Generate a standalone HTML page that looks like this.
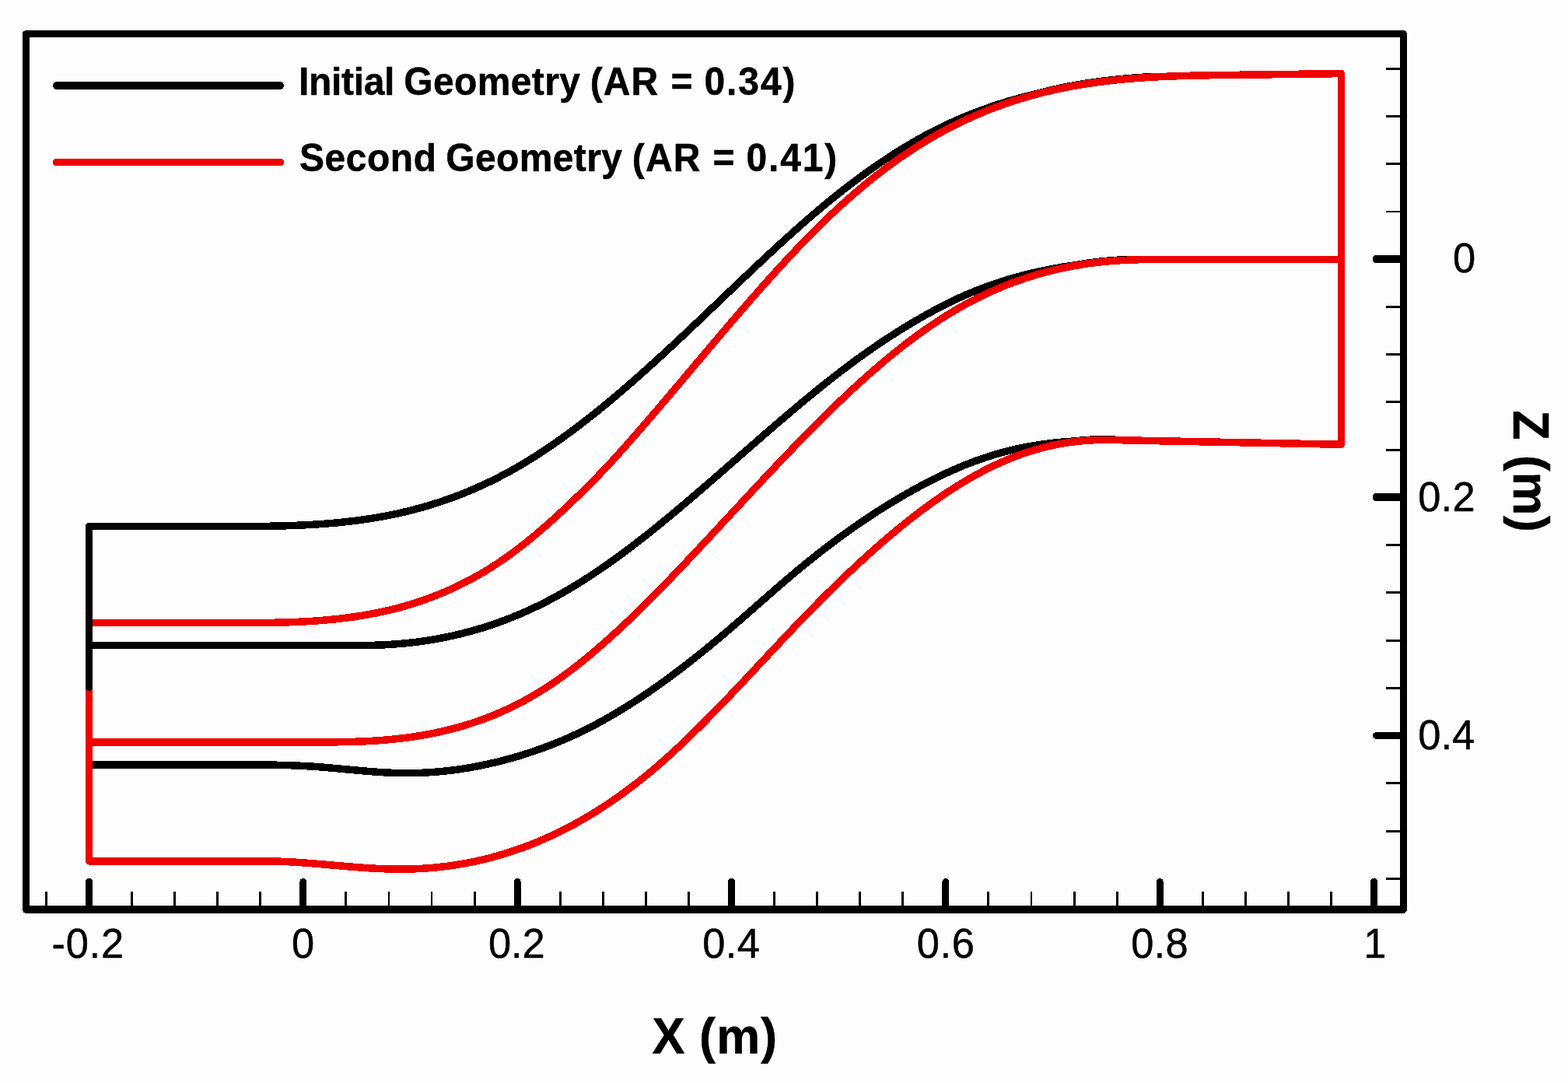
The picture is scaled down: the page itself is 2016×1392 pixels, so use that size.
<!DOCTYPE html>
<html lang="en"><head><meta charset="utf-8"><title>Geometry comparison</title>
<style>
html,body{margin:0;padding:0;background:#fdfdfd;}
body{width:2016px;height:1392px;overflow:hidden;}
svg{display:block;}
</style></head>
<body>
<svg width="2016" height="1392" viewBox="0 0 2016 1392" shape-rendering="crispEdges">
<rect width="2016" height="1392" fill="#fdfdfd"/>
<g transform="scale(1,1.0556)" fill="none" stroke-width="9.0" stroke-linejoin="round">
<g stroke="#000">
<path d="M118.0,640.96 L121.0,640.96 L124.0,640.96 L127.0,640.96 L130.0,640.96 L133.0,640.96 L136.0,640.96 L139.0,640.96 L142.0,640.96 L145.0,640.96 L148.0,640.96 L151.0,640.96 L154.0,640.96 L157.0,640.96 L160.0,640.96 L163.0,640.96 L166.0,640.96 L169.0,640.96 L172.0,640.96 L175.0,640.96 L178.0,640.96 L181.0,640.96 L184.0,640.96 L187.0,640.96 L190.0,640.96 L193.0,640.96 L196.0,640.96 L199.0,640.96 L202.0,640.92 L205.0,640.92 L208.0,640.92 L211.0,640.92 L214.0,640.92 L217.0,640.92 L220.0,640.93 L223.0,640.93 L226.0,640.93 L229.0,640.93 L232.0,640.94 L235.0,640.94 L238.0,640.95 L241.0,640.95 L244.0,640.95 L247.0,640.96 L250.0,640.96 L253.0,640.96 L256.0,640.97 L259.0,640.97 L262.0,640.98 L265.0,640.98 L268.0,640.98 L271.0,640.99 L274.0,640.99 L277.0,640.99 L280.0,640.99 L283.0,641.00 L286.0,641.00 L289.0,641.00 L292.0,641.00 L295.0,641.00 L298.0,640.99 L301.0,640.99 L304.0,640.98 L307.0,640.98 L310.0,640.97 L313.0,640.96 L316.0,640.95 L319.0,640.93 L322.0,640.92 L325.0,640.89 L328.0,640.87 L331.0,640.85 L334.0,640.82 L337.0,640.78 L340.0,640.74 L343.0,640.70 L346.0,640.66 L349.0,640.61 L352.0,640.55 L355.0,640.49 L358.0,640.43 L361.0,640.36 L364.0,640.28 L367.0,640.20 L370.0,640.11 L373.0,640.02 L376.0,639.92 L379.0,639.81 L382.0,639.69 L385.0,639.57 L388.0,639.44 L391.0,639.31 L394.0,639.17 L397.0,639.01 L400.0,638.85 L403.0,638.69 L406.0,638.51 L409.0,638.32 L412.0,638.13 L415.0,637.93 L418.0,637.71 L421.0,637.49 L424.0,637.26 L427.0,637.02 L430.0,636.76 L433.0,636.50 L436.0,636.23 L439.0,635.94 L442.0,635.65 L445.0,635.34 L448.0,635.02 L451.0,634.69 L454.0,634.35 L457.0,633.99 L460.0,633.63 L463.0,633.25 L466.0,632.85 L469.0,632.45 L472.0,632.03 L475.0,631.60 L478.0,631.15 L481.0,630.69 L484.0,630.22 L487.0,629.73 L490.0,629.23 L493.0,628.71 L496.0,628.18 L499.0,627.63 L502.0,627.07 L505.0,626.49 L508.0,625.90 L511.0,625.29 L514.0,624.66 L517.0,624.02 L520.0,623.36 L523.0,622.68 L526.0,621.99 L529.0,621.28 L532.0,620.55 L535.0,619.81 L538.0,619.04 L541.0,618.26 L544.0,617.46 L547.0,616.65 L550.0,615.81 L553.0,614.96 L556.0,614.09 L559.0,613.20 L562.0,612.29 L565.0,611.36 L568.0,610.41 L571.0,609.45 L574.0,608.46 L577.0,607.46 L580.0,606.44 L583.0,605.39 L586.0,604.33 L589.0,603.25 L592.0,602.15 L595.0,601.03 L598.0,599.88 L601.0,598.72 L604.0,597.54 L607.0,596.33 L610.0,595.11 L613.0,593.87 L616.0,592.60 L619.0,591.31 L622.0,590.01 L625.0,588.68 L628.0,587.33 L631.0,585.96 L634.0,584.56 L637.0,583.15 L640.0,581.71 L643.0,580.25 L646.0,578.77 L649.0,577.27 L652.0,575.74 L655.0,574.20 L658.0,572.63 L661.0,571.03 L664.0,569.42 L667.0,567.78 L670.0,566.12 L673.0,564.43 L676.0,562.72 L679.0,560.99 L682.0,559.24 L685.0,557.47 L688.0,555.67 L691.0,553.86 L694.0,552.02 L697.0,550.16 L700.0,548.29 L703.0,546.39 L706.0,544.47 L709.0,542.53 L712.0,540.57 L715.0,538.59 L718.0,536.60 L721.0,534.58 L724.0,532.55 L727.0,530.49 L730.0,528.42 L733.0,526.33 L736.0,524.23 L739.0,522.10 L742.0,519.96 L745.0,517.81 L748.0,515.63 L751.0,513.44 L754.0,511.23 L757.0,509.01 L760.0,506.77 L763.0,504.52 L766.0,502.25 L769.0,499.96 L772.0,497.66 L775.0,495.35 L778.0,493.02 L781.0,490.68 L784.0,488.32 L787.0,485.95 L790.0,483.57 L793.0,481.17 L796.0,478.76 L799.0,476.34 L802.0,473.91 L805.0,471.46 L808.0,469.00 L811.0,466.53 L814.0,464.05 L817.0,461.56 L820.0,459.06 L823.0,456.54 L826.0,454.02 L829.0,451.48 L832.0,448.94 L835.0,446.38 L838.0,443.82 L841.0,441.25 L844.0,438.67 L847.0,436.08 L850.0,433.48 L853.0,430.87 L856.0,428.25 L859.0,425.63 L862.0,423.00 L865.0,420.36 L868.0,417.72 L871.0,415.06 L874.0,412.41 L877.0,409.74 L880.0,407.07 L883.0,404.39 L886.0,401.71 L889.0,399.03 L892.0,396.34 L895.0,393.64 L898.0,390.94 L901.0,388.24 L904.0,385.54 L907.0,382.83 L910.0,380.12 L913.0,377.41 L916.0,374.70 L919.0,371.99 L922.0,369.27 L925.0,366.56 L928.0,363.84 L931.0,361.13 L934.0,358.41 L937.0,355.70 L940.0,352.99 L943.0,350.28 L946.0,347.57 L949.0,344.87 L952.0,342.16 L955.0,339.46 L958.0,336.77 L961.0,334.07 L964.0,331.39 L967.0,328.70 L970.0,326.02 L973.0,323.35 L976.0,320.68 L979.0,318.02 L982.0,315.36 L985.0,312.72 L988.0,310.07 L991.0,307.44 L994.0,304.81 L997.0,302.19 L1000.0,299.58 L1003.0,296.98 L1006.0,294.39 L1009.0,291.81 L1012.0,289.23 L1015.0,286.67 L1018.0,284.12 L1021.0,281.58 L1024.0,279.05 L1027.0,276.53 L1030.0,274.02 L1033.0,271.53 L1036.0,269.05 L1039.0,266.58 L1042.0,264.13 L1045.0,261.69 L1048.0,259.26 L1051.0,256.85 L1054.0,254.45 L1057.0,252.07 L1060.0,249.70 L1063.0,247.35 L1066.0,245.02 L1069.0,242.70 L1072.0,240.40 L1075.0,238.12 L1078.0,235.85 L1081.0,233.60 L1084.0,231.37 L1087.0,229.16 L1090.0,226.96 L1093.0,224.79 L1096.0,222.63 L1099.0,220.49 L1102.0,218.36 L1105.0,216.26 L1108.0,214.17 L1111.0,212.10 L1114.0,210.06 L1117.0,208.03 L1120.0,206.01 L1123.0,204.02 L1126.0,202.05 L1129.0,200.09 L1132.0,198.16 L1135.0,196.25 L1138.0,194.35 L1141.0,192.47 L1144.0,190.62 L1147.0,188.78 L1150.0,186.97 L1153.0,185.17 L1156.0,183.40 L1159.0,181.64 L1162.0,179.91 L1165.0,178.19 L1168.0,176.50 L1171.0,174.83 L1174.0,173.18 L1177.0,171.55 L1180.0,169.94 L1183.0,168.35 L1186.0,166.78 L1189.0,165.24 L1192.0,163.72 L1195.0,162.21 L1198.0,160.73 L1201.0,159.28 L1204.0,157.84 L1207.0,156.43 L1210.0,155.03 L1213.0,153.66 L1216.0,152.31 L1219.0,150.98 L1222.0,149.67 L1225.0,148.38 L1228.0,147.11 L1231.0,145.86 L1234.0,144.63 L1237.0,143.42 L1240.0,142.23 L1243.0,141.06 L1246.0,139.91 L1249.0,138.78 L1252.0,137.66 L1255.0,136.57 L1258.0,135.49 L1261.0,134.43 L1264.0,133.39 L1267.0,132.37 L1270.0,131.37 L1273.0,130.38 L1276.0,129.41 L1279.0,128.46 L1282.0,127.52 L1285.0,126.61 L1288.0,125.70 L1291.0,124.82 L1294.0,123.95 L1297.0,123.10 L1300.0,122.26 L1303.0,121.44 L1306.0,120.64 L1309.0,119.85 L1312.0,119.08 L1315.0,118.32 L1318.0,117.57 L1321.0,116.84 L1324.0,116.13 L1327.0,115.43 L1330.0,114.74 L1333.0,113.98 L1336.0,113.24 L1339.0,112.51 L1342.0,111.80 L1345.0,111.10 L1348.0,110.42 L1351.0,109.76 L1354.0,109.11 L1357.0,108.47 L1360.0,107.85 L1363.0,107.25 L1366.0,106.66 L1369.0,106.09 L1372.0,105.52 L1375.0,104.98 L1378.0,104.45 L1381.0,103.93 L1384.0,103.42 L1387.0,102.93 L1390.0,102.45 L1393.0,101.99 L1396.0,101.54 L1399.0,101.10 L1402.0,100.67 L1405.0,100.26 L1408.0,99.86 L1411.0,99.47 L1414.0,99.09 L1417.0,98.72 L1420.0,98.37 L1423.0,98.02 L1426.0,97.69 L1429.0,97.37 L1432.0,97.06 L1435.0,96.76 L1438.0,96.47 L1441.0,96.19 L1444.0,95.91 L1447.0,95.65 L1450.0,95.40 L1453.0,95.16 L1456.0,94.93 L1459.0,94.70 L1462.0,94.48 L1465.0,94.28 L1468.0,94.08 L1471.0,93.89 L1474.0,93.70 L1477.0,93.53 L1480.0,93.36 L1483.0,93.86 L1486.0,93.71 L1489.0,93.56 L1492.0,93.42 L1495.0,93.28 L1498.0,93.16 L1501.0,93.03 L1504.0,92.92 L1507.0,92.81 L1510.0,92.70 L1513.0,92.60 L1516.0,92.51 L1519.0,92.42 L1522.0,92.33 L1525.0,92.25 L1528.0,92.18 L1531.0,92.11 L1534.0,92.04 L1537.0,91.97 L1540.0,91.91 L1543.0,91.85 L1546.0,91.80 L1549.0,91.75 L1552.0,91.70 L1555.0,91.65 L1558.0,91.61 L1561.0,91.57 L1564.0,91.53 L1567.0,91.49 L1570.0,91.45 L1573.0,91.42 L1576.0,91.38 L1579.0,91.35 L1582.0,91.32 L1585.0,91.29 L1588.0,91.25 L1591.0,91.22 L1594.0,91.19 L1597.0,91.16 L1600.0,91.13 L1603.0,91.10 L1606.0,91.06 L1609.0,91.03 L1612.0,90.99 L1615.0,90.96 L1618.0,90.92 L1621.0,90.88 L1624.0,90.84 L1627.0,90.81 L1630.0,90.77 L1633.0,90.73 L1636.0,90.69 L1639.0,90.65 L1642.0,90.61 L1645.0,90.57 L1648.0,90.53 L1651.0,90.49 L1654.0,90.45 L1657.0,90.42 L1660.0,90.38 L1663.0,90.34 L1666.0,90.30 L1669.0,90.26 L1672.0,90.23 L1675.0,90.19 L1678.0,90.15 L1681.0,90.12 L1684.0,90.08 L1687.0,90.05 L1690.0,90.01 L1693.0,89.98 L1696.0,89.94 L1699.0,89.91 L1702.0,89.87 L1705.0,89.84 L1708.0,89.81 L1711.0,89.77 L1714.0,89.74 L1717.0,89.70 L1720.0,89.67 L1723.0,89.64 L1724.5,89.62"/>
<path d="M118.0,785.90 L121.0,785.90 L124.0,785.90 L127.0,785.90 L130.0,785.90 L133.0,785.90 L136.0,785.90 L139.0,785.90 L142.0,785.90 L145.0,785.90 L148.0,785.90 L151.0,785.90 L154.0,785.90 L157.0,785.90 L160.0,785.90 L163.0,785.90 L166.0,785.90 L169.0,785.90 L172.0,785.90 L175.0,785.90 L178.0,785.90 L181.0,785.90 L184.0,785.90 L187.0,785.90 L190.0,785.90 L193.0,785.90 L196.0,785.90 L199.0,785.90 L202.0,785.90 L205.0,785.90 L208.0,785.90 L211.0,785.90 L214.0,785.90 L217.0,785.90 L220.0,785.90 L223.0,785.90 L226.0,785.90 L229.0,785.90 L232.0,785.90 L235.0,785.90 L238.0,785.90 L241.0,785.90 L244.0,785.90 L247.0,785.90 L250.0,785.90 L253.0,785.90 L256.0,785.90 L259.0,785.90 L262.0,785.90 L265.0,785.90 L268.0,785.90 L271.0,785.90 L274.0,785.90 L277.0,785.90 L280.0,785.90 L283.0,785.90 L286.0,785.90 L289.0,785.90 L292.0,785.90 L295.0,785.90 L298.0,785.90 L301.0,785.90 L304.0,785.90 L307.0,785.90 L310.0,785.90 L313.0,785.90 L316.0,785.90 L319.0,785.90 L322.0,785.90 L325.0,785.90 L328.0,785.90 L331.0,785.90 L334.0,785.90 L337.0,785.90 L340.0,785.90 L343.0,785.90 L346.0,785.90 L349.0,785.90 L352.0,785.90 L355.0,785.90 L358.0,785.90 L361.0,785.90 L364.0,785.90 L367.0,785.90 L370.0,785.89 L373.0,785.88 L376.0,785.88 L379.0,785.88 L382.0,785.88 L385.0,785.88 L388.0,785.88 L391.0,785.88 L394.0,785.88 L397.0,785.88 L400.0,785.88 L403.0,785.89 L406.0,785.89 L409.0,785.89 L412.0,785.90 L415.0,785.90 L418.0,785.91 L421.0,785.91 L424.0,785.92 L427.0,785.93 L430.0,785.94 L433.0,785.95 L436.0,785.96 L439.0,785.97 L442.0,785.97 L445.0,785.98 L448.0,785.98 L451.0,785.98 L454.0,785.98 L457.0,785.96 L460.0,785.95 L463.0,785.93 L466.0,785.90 L469.0,785.86 L472.0,785.81 L475.0,785.76 L478.0,785.69 L481.0,785.61 L484.0,785.52 L487.0,785.42 L490.0,785.31 L493.0,785.18 L496.0,785.04 L499.0,784.89 L502.0,784.71 L505.0,784.53 L508.0,784.32 L511.0,784.11 L514.0,783.87 L517.0,783.62 L520.0,783.35 L523.0,783.07 L526.0,782.77 L529.0,782.46 L532.0,782.12 L535.0,781.77 L538.0,781.41 L541.0,781.03 L544.0,780.63 L547.0,780.21 L550.0,779.78 L553.0,779.33 L556.0,778.86 L559.0,778.37 L562.0,777.87 L565.0,777.35 L568.0,776.81 L571.0,776.25 L574.0,775.68 L577.0,775.09 L580.0,774.48 L583.0,773.85 L586.0,773.20 L589.0,772.53 L592.0,771.85 L595.0,771.14 L598.0,770.42 L601.0,769.68 L604.0,768.91 L607.0,768.13 L610.0,767.33 L613.0,766.52 L616.0,765.68 L619.0,764.82 L622.0,763.94 L625.0,763.04 L628.0,762.12 L631.0,761.18 L634.0,760.22 L637.0,759.25 L640.0,758.25 L643.0,757.23 L646.0,756.18 L649.0,755.12 L652.0,754.04 L655.0,752.94 L658.0,751.81 L661.0,750.67 L664.0,749.50 L667.0,748.31 L670.0,747.10 L673.0,745.87 L676.0,744.61 L679.0,743.34 L682.0,742.04 L685.0,740.72 L688.0,739.38 L691.0,738.01 L694.0,736.63 L697.0,735.22 L700.0,733.78 L703.0,732.33 L706.0,730.85 L709.0,729.35 L712.0,727.83 L715.0,726.28 L718.0,724.72 L721.0,723.13 L724.0,721.52 L727.0,719.88 L730.0,718.23 L733.0,716.56 L736.0,714.86 L739.0,713.15 L742.0,711.41 L745.0,709.65 L748.0,707.88 L751.0,706.08 L754.0,704.27 L757.0,702.43 L760.0,700.58 L763.0,698.70 L766.0,696.81 L769.0,694.90 L772.0,692.97 L775.0,691.02 L778.0,689.05 L781.0,687.07 L784.0,685.07 L787.0,683.05 L790.0,681.01 L793.0,678.96 L796.0,676.89 L799.0,674.80 L802.0,672.70 L805.0,670.58 L808.0,668.45 L811.0,666.30 L814.0,664.14 L817.0,661.97 L820.0,659.78 L823.0,657.57 L826.0,655.36 L829.0,653.13 L832.0,650.89 L835.0,648.63 L838.0,646.37 L841.0,644.09 L844.0,641.80 L847.0,639.50 L850.0,637.19 L853.0,634.87 L856.0,632.54 L859.0,630.20 L862.0,627.85 L865.0,625.49 L868.0,623.12 L871.0,620.74 L874.0,618.36 L877.0,615.97 L880.0,613.57 L883.0,611.16 L886.0,608.75 L889.0,606.33 L892.0,603.90 L895.0,601.47 L898.0,599.03 L901.0,596.58 L904.0,594.14 L907.0,591.68 L910.0,589.23 L913.0,586.76 L916.0,584.30 L919.0,581.83 L922.0,579.36 L925.0,576.88 L928.0,574.41 L931.0,571.93 L934.0,569.45 L937.0,566.96 L940.0,564.48 L943.0,562.00 L946.0,559.51 L949.0,557.03 L952.0,554.54 L955.0,552.06 L958.0,549.57 L961.0,547.09 L964.0,544.61 L967.0,542.13 L970.0,539.65 L973.0,537.17 L976.0,534.70 L979.0,532.23 L982.0,529.76 L985.0,527.30 L988.0,524.84 L991.0,522.38 L994.0,519.93 L997.0,517.49 L1000.0,515.05 L1003.0,512.61 L1006.0,510.18 L1009.0,507.76 L1012.0,505.34 L1015.0,502.93 L1018.0,500.53 L1021.0,498.13 L1024.0,495.75 L1027.0,493.37 L1030.0,490.99 L1033.0,488.63 L1036.0,486.28 L1039.0,483.93 L1042.0,481.60 L1045.0,479.27 L1048.0,476.96 L1051.0,474.65 L1054.0,472.36 L1057.0,470.08 L1060.0,467.80 L1063.0,465.55 L1066.0,463.30 L1069.0,461.06 L1072.0,458.84 L1075.0,456.63 L1078.0,454.44 L1081.0,452.26 L1084.0,450.09 L1087.0,447.93 L1090.0,445.80 L1093.0,443.67 L1096.0,441.56 L1099.0,439.47 L1102.0,437.39 L1105.0,435.33 L1108.0,433.29 L1111.0,431.26 L1114.0,429.25 L1117.0,427.26 L1120.0,425.28 L1123.0,423.31 L1126.0,421.37 L1129.0,419.44 L1132.0,417.52 L1135.0,415.63 L1138.0,413.75 L1141.0,411.88 L1144.0,410.03 L1147.0,408.19 L1150.0,406.38 L1153.0,404.57 L1156.0,402.79 L1159.0,401.01 L1162.0,399.26 L1165.0,397.52 L1168.0,395.79 L1171.0,394.08 L1174.0,392.39 L1177.0,390.71 L1180.0,389.05 L1183.0,387.40 L1186.0,385.77 L1189.0,384.16 L1192.0,382.57 L1195.0,381.00 L1198.0,379.44 L1201.0,377.91 L1204.0,376.39 L1207.0,374.89 L1210.0,373.42 L1213.0,371.96 L1216.0,370.52 L1219.0,369.11 L1222.0,367.72 L1225.0,366.35 L1228.0,365.00 L1231.0,363.68 L1234.0,362.38 L1237.0,361.10 L1240.0,359.84 L1243.0,358.61 L1246.0,357.40 L1249.0,356.21 L1252.0,355.05 L1255.0,353.90 L1258.0,352.78 L1261.0,351.68 L1264.0,350.60 L1267.0,349.54 L1270.0,348.51 L1273.0,347.49 L1276.0,346.49 L1279.0,345.52 L1282.0,344.56 L1285.0,343.62 L1288.0,342.71 L1291.0,341.81 L1294.0,340.93 L1297.0,340.08 L1300.0,339.24 L1303.0,338.42 L1306.0,337.61 L1309.0,336.83 L1312.0,336.06 L1315.0,335.32 L1318.0,334.59 L1321.0,333.87 L1324.0,333.18 L1327.0,332.50 L1330.0,331.84 L1333.0,331.19 L1336.0,330.57 L1339.0,329.95 L1342.0,329.36 L1345.0,328.78 L1348.0,328.22 L1351.0,327.67 L1354.0,327.14 L1357.0,326.62 L1360.0,326.11 L1363.0,325.63 L1366.0,325.15 L1369.0,324.69 L1372.0,324.25 L1375.0,323.82 L1378.0,323.40 L1381.0,323.00 L1384.0,322.50 L1387.0,322.01 L1390.0,321.55 L1393.0,321.11 L1396.0,320.68 L1399.0,320.27 L1402.0,319.88 L1405.0,319.51 L1408.0,319.15 L1411.0,318.82 L1414.0,318.50 L1417.0,318.20 L1420.0,317.92 L1423.0,317.65 L1426.0,317.40 L1429.0,317.17 L1432.0,316.95 L1435.0,316.75 L1438.0,316.56 L1441.0,316.39 L1444.0,316.23 L1447.0,316.08 L1450.0,315.94 L1453.0,315.82 L1456.0,315.71 L1459.0,316.28 L1462.0,316.19 L1465.0,316.11 L1468.0,316.04 L1471.0,315.98 L1474.0,315.92 L1477.0,315.88 L1480.0,315.84 L1483.0,315.81 L1486.0,315.79 L1489.0,315.77 L1492.0,315.76 L1495.0,315.75 L1498.0,315.74 L1501.0,315.74 L1504.0,315.75 L1507.0,315.75 L1510.0,315.76 L1513.0,315.77 L1516.0,315.78 L1519.0,315.79 L1522.0,315.80 L1525.0,315.81 L1528.0,315.82 L1531.0,315.83 L1534.0,315.83 L1537.0,315.84 L1540.0,315.84 L1543.0,315.85 L1546.0,315.85 L1549.0,315.85 L1552.0,315.85 L1555.0,315.85 L1558.0,315.85 L1561.0,315.85 L1564.0,315.85 L1567.0,315.85 L1570.0,315.85 L1573.0,315.84 L1576.0,315.84 L1579.0,315.84 L1582.0,315.83 L1585.0,315.83 L1588.0,315.82 L1591.0,315.82 L1594.0,315.81 L1597.0,315.81 L1600.0,315.81 L1603.0,315.80 L1606.0,315.80 L1609.0,315.79 L1612.0,315.79 L1615.0,315.78 L1618.0,315.78 L1621.0,315.78 L1624.0,315.77 L1627.0,315.77 L1630.0,315.77 L1633.0,315.77 L1636.0,315.76 L1639.0,315.76 L1642.0,315.76 L1645.0,315.76 L1648.0,315.76 L1651.0,315.76 L1654.0,315.76 L1657.0,315.75 L1660.0,315.75 L1663.0,315.75 L1666.0,315.75 L1669.0,315.75 L1672.0,315.75 L1675.0,315.75 L1678.0,315.75 L1681.0,315.75 L1684.0,315.75 L1687.0,315.75 L1690.0,315.75 L1693.0,315.75 L1696.0,315.75 L1699.0,315.75 L1702.0,315.75 L1705.0,315.75 L1708.0,315.75 L1711.0,315.75 L1714.0,315.75 L1717.0,315.75 L1720.0,315.75 L1723.0,315.75 L1724.5,315.75"/>
<path d="M118.0,931.22 L121.0,931.22 L124.0,931.22 L127.0,931.22 L130.0,931.22 L133.0,931.22 L136.0,931.22 L139.0,931.22 L142.0,931.22 L145.0,931.22 L148.0,931.22 L151.0,931.22 L154.0,931.22 L157.0,931.22 L160.0,931.22 L163.0,931.22 L166.0,931.22 L169.0,931.22 L172.0,931.22 L175.0,931.22 L178.0,931.22 L181.0,931.22 L184.0,931.22 L187.0,931.22 L190.0,931.22 L193.0,931.22 L196.0,931.22 L199.0,931.22 L202.0,931.22 L205.0,931.22 L208.0,931.22 L211.0,931.22 L214.0,931.22 L217.0,931.22 L220.0,931.22 L223.0,931.22 L226.0,931.22 L229.0,931.22 L232.0,931.22 L235.0,931.22 L238.0,931.22 L241.0,931.22 L244.0,931.22 L247.0,931.22 L250.0,931.25 L253.0,931.25 L256.0,931.24 L259.0,931.24 L262.0,931.23 L265.0,931.23 L268.0,931.22 L271.0,931.21 L274.0,931.21 L277.0,931.20 L280.0,931.20 L283.0,931.19 L286.0,931.19 L289.0,931.18 L292.0,931.18 L295.0,931.17 L298.0,931.17 L301.0,931.17 L304.0,931.16 L307.0,931.16 L310.0,931.16 L313.0,931.16 L316.0,931.16 L319.0,931.17 L322.0,931.17 L325.0,931.18 L328.0,931.19 L331.0,931.20 L334.0,931.22 L337.0,931.24 L340.0,931.27 L343.0,931.29 L346.0,931.33 L349.0,931.37 L352.0,931.41 L355.0,931.46 L358.0,931.52 L361.0,931.58 L364.0,931.65 L367.0,931.73 L370.0,931.81 L373.0,931.90 L376.0,932.00 L379.0,932.11 L382.0,932.23 L385.0,932.36 L388.0,932.50 L391.0,932.64 L394.0,932.80 L397.0,932.97 L400.0,933.14 L403.0,933.33 L406.0,933.53 L409.0,933.74 L412.0,933.96 L415.0,934.19 L418.0,934.43 L421.0,934.67 L424.0,934.91 L427.0,935.17 L430.0,935.42 L433.0,935.68 L436.0,935.95 L439.0,936.21 L442.0,936.48 L445.0,936.75 L448.0,937.01 L451.0,937.28 L454.0,937.54 L457.0,937.80 L460.0,938.06 L463.0,938.32 L466.0,938.56 L469.0,938.81 L472.0,939.05 L475.0,939.28 L478.0,939.50 L481.0,939.71 L484.0,939.91 L487.0,940.11 L490.0,940.29 L493.0,940.46 L496.0,940.62 L499.0,940.76 L502.0,940.89 L505.0,941.01 L508.0,941.11 L511.0,941.19 L514.0,941.26 L517.0,941.31 L520.0,941.34 L523.0,941.35 L526.0,941.34 L529.0,941.31 L532.0,941.27 L535.0,941.20 L538.0,941.12 L541.0,941.02 L544.0,940.89 L547.0,940.76 L550.0,940.60 L553.0,940.42 L556.0,940.23 L559.0,940.01 L562.0,939.78 L565.0,939.53 L568.0,939.26 L571.0,938.98 L574.0,938.67 L577.0,938.35 L580.0,938.01 L583.0,937.66 L586.0,937.28 L589.0,936.89 L592.0,936.47 L595.0,936.05 L598.0,935.60 L601.0,935.13 L604.0,934.65 L607.0,934.15 L610.0,933.64 L613.0,933.10 L616.0,932.55 L619.0,931.98 L622.0,931.39 L625.0,930.79 L628.0,930.17 L631.0,929.53 L634.0,928.88 L637.0,928.21 L640.0,927.52 L643.0,926.81 L646.0,926.09 L649.0,925.35 L652.0,924.59 L655.0,923.82 L658.0,923.03 L661.0,922.22 L664.0,921.40 L667.0,920.56 L670.0,919.70 L673.0,918.82 L676.0,917.93 L679.0,917.02 L682.0,916.09 L685.0,915.14 L688.0,914.17 L691.0,913.19 L694.0,912.18 L697.0,911.16 L700.0,910.12 L703.0,909.06 L706.0,907.97 L709.0,906.87 L712.0,905.75 L715.0,904.61 L718.0,903.45 L721.0,902.27 L724.0,901.07 L727.0,899.85 L730.0,898.61 L733.0,897.34 L736.0,896.06 L739.0,894.75 L742.0,893.43 L745.0,892.08 L748.0,890.71 L751.0,889.31 L754.0,887.90 L757.0,886.46 L760.0,885.01 L763.0,883.53 L766.0,882.03 L769.0,880.51 L772.0,878.96 L775.0,877.40 L778.0,875.82 L781.0,874.21 L784.0,872.59 L787.0,870.95 L790.0,869.28 L793.0,867.60 L796.0,865.89 L799.0,864.17 L802.0,862.43 L805.0,860.67 L808.0,858.89 L811.0,857.09 L814.0,855.28 L817.0,853.44 L820.0,851.59 L823.0,849.72 L826.0,847.83 L829.0,845.92 L832.0,844.00 L835.0,842.06 L838.0,840.10 L841.0,838.12 L844.0,836.13 L847.0,834.12 L850.0,832.10 L853.0,830.06 L856.0,828.00 L859.0,825.93 L862.0,823.84 L865.0,821.73 L868.0,819.61 L871.0,817.48 L874.0,815.33 L877.0,813.16 L880.0,810.98 L883.0,808.79 L886.0,806.58 L889.0,804.36 L892.0,802.12 L895.0,799.87 L898.0,797.60 L901.0,795.33 L904.0,793.03 L907.0,790.73 L910.0,788.41 L913.0,786.08 L916.0,783.74 L919.0,781.38 L922.0,779.02 L925.0,776.64 L928.0,774.25 L931.0,771.84 L934.0,769.43 L937.0,767.00 L940.0,764.57 L943.0,762.12 L946.0,759.67 L949.0,757.20 L952.0,754.74 L955.0,752.26 L958.0,749.78 L961.0,747.30 L964.0,744.81 L967.0,742.32 L970.0,739.83 L973.0,737.34 L976.0,734.84 L979.0,732.35 L982.0,729.86 L985.0,727.37 L988.0,724.89 L991.0,722.41 L994.0,719.93 L997.0,717.46 L1000.0,715.00 L1003.0,712.54 L1006.0,710.10 L1009.0,707.66 L1012.0,705.23 L1015.0,702.81 L1018.0,700.41 L1021.0,698.01 L1024.0,695.63 L1027.0,693.27 L1030.0,690.92 L1033.0,688.58 L1036.0,686.26 L1039.0,683.96 L1042.0,681.67 L1045.0,679.40 L1048.0,677.14 L1051.0,674.90 L1054.0,672.68 L1057.0,670.47 L1060.0,668.28 L1063.0,666.10 L1066.0,663.94 L1069.0,661.79 L1072.0,659.67 L1075.0,657.55 L1078.0,655.45 L1081.0,653.37 L1084.0,651.31 L1087.0,649.26 L1090.0,647.22 L1093.0,645.20 L1096.0,643.20 L1099.0,641.21 L1102.0,639.24 L1105.0,637.29 L1108.0,635.35 L1111.0,633.43 L1114.0,631.52 L1117.0,629.63 L1120.0,627.75 L1123.0,625.89 L1126.0,624.05 L1129.0,622.22 L1132.0,620.41 L1135.0,618.61 L1138.0,616.83 L1141.0,615.06 L1144.0,613.31 L1147.0,611.58 L1150.0,609.86 L1153.0,608.16 L1156.0,606.47 L1159.0,604.80 L1162.0,603.15 L1165.0,601.51 L1168.0,599.89 L1171.0,598.29 L1174.0,596.70 L1177.0,595.13 L1180.0,593.58 L1183.0,592.04 L1186.0,590.52 L1189.0,589.02 L1192.0,587.54 L1195.0,586.08 L1198.0,584.63 L1201.0,583.21 L1204.0,581.80 L1207.0,580.41 L1210.0,579.04 L1213.0,577.70 L1216.0,576.37 L1219.0,575.06 L1222.0,573.77 L1225.0,572.51 L1228.0,571.26 L1231.0,570.03 L1234.0,568.83 L1237.0,567.65 L1240.0,566.49 L1243.0,565.35 L1246.0,564.23 L1249.0,563.14 L1252.0,562.06 L1255.0,561.01 L1258.0,559.99 L1261.0,558.99 L1264.0,558.01 L1267.0,557.05 L1270.0,556.12 L1273.0,555.21 L1276.0,554.33 L1279.0,553.47 L1282.0,552.63 L1285.0,551.82 L1288.0,551.04 L1291.0,550.28 L1294.0,549.54 L1297.0,548.83 L1300.0,548.14 L1303.0,547.47 L1306.0,546.83 L1309.0,546.20 L1312.0,545.60 L1315.0,545.03 L1318.0,544.47 L1321.0,543.93 L1324.0,543.42 L1327.0,542.92 L1330.0,542.45 L1333.0,541.99 L1336.0,541.56 L1339.0,541.14 L1342.0,540.74 L1345.0,540.36 L1348.0,540.00 L1351.0,539.65 L1354.0,539.33 L1357.0,539.02 L1360.0,538.72 L1363.0,538.45 L1366.0,538.19 L1369.0,537.94 L1372.0,537.71 L1375.0,537.50 L1378.0,537.30 L1381.0,537.11 L1384.0,536.90 L1387.0,536.59 L1390.0,536.31 L1393.0,536.05 L1396.0,535.83 L1399.0,535.63 L1402.0,535.47 L1405.0,535.33 L1408.0,535.22 L1411.0,535.13 L1414.0,535.07 L1417.0,535.04 L1420.0,535.02 L1423.0,535.02 L1426.0,535.04 L1429.0,535.07 L1432.0,535.10 L1435.0,535.81 L1438.0,535.86 L1441.0,535.92 L1444.0,535.97 L1447.0,536.03 L1450.0,536.08 L1453.0,536.14 L1456.0,536.20 L1459.0,536.26 L1462.0,536.32 L1465.0,536.38 L1468.0,536.44 L1471.0,536.50 L1474.0,536.56 L1477.0,536.62 L1480.0,536.68 L1483.0,536.74 L1486.0,536.80 L1489.0,536.86 L1492.0,536.91 L1495.0,536.97 L1498.0,537.03 L1501.0,537.09 L1504.0,537.15 L1507.0,537.20 L1510.0,537.26 L1513.0,537.32 L1516.0,537.37 L1519.0,537.43 L1522.0,537.48 L1525.0,537.54 L1528.0,537.60 L1531.0,537.65 L1534.0,537.71 L1537.0,537.76 L1540.0,537.81 L1543.0,537.87 L1546.0,537.92 L1549.0,537.98 L1552.0,538.03 L1555.0,538.09 L1558.0,538.14 L1561.0,538.19 L1564.0,538.25 L1567.0,538.30 L1570.0,538.36 L1573.0,538.41 L1576.0,538.46 L1579.0,538.52 L1582.0,538.57 L1585.0,538.63 L1588.0,538.68 L1591.0,538.73 L1594.0,538.79 L1597.0,538.84 L1600.0,538.90 L1603.0,538.95 L1606.0,539.01 L1609.0,539.06 L1612.0,539.12 L1615.0,539.17 L1618.0,539.23 L1621.0,539.28 L1624.0,539.34 L1627.0,539.39 L1630.0,539.45 L1633.0,539.51 L1636.0,539.56 L1639.0,539.62 L1642.0,539.67 L1645.0,539.73 L1648.0,539.79 L1651.0,539.84 L1654.0,539.90 L1657.0,539.95 L1660.0,540.01 L1663.0,540.07 L1666.0,540.12 L1669.0,540.18 L1672.0,540.23 L1675.0,540.29 L1678.0,540.35 L1681.0,540.40 L1684.0,540.46 L1687.0,540.51 L1690.0,540.57 L1693.0,540.63 L1696.0,540.68 L1699.0,540.74 L1702.0,540.80 L1705.0,540.85 L1708.0,540.91 L1711.0,540.96 L1714.0,541.02 L1717.0,541.08 L1720.0,541.13 L1723.0,541.19 L1724.5,541.22"/>
</g>
<g stroke="#f00000">
<path d="M114.5,758.43 L117.5,758.43 L120.5,758.43 L123.5,758.43 L126.5,758.43 L129.5,758.43 L132.5,758.43 L135.5,758.43 L138.5,758.43 L141.5,758.43 L144.5,758.43 L147.5,758.43 L150.5,758.43 L153.5,758.43 L156.5,758.43 L159.5,758.43 L162.5,758.43 L165.5,758.43 L168.5,758.43 L171.5,758.43 L174.5,758.43 L177.5,758.43 L180.5,758.43 L183.5,758.43 L186.5,758.43 L189.5,758.43 L192.5,758.43 L195.5,758.43 L198.5,758.43 L201.5,758.44 L204.5,758.44 L207.5,758.44 L210.5,758.44 L213.5,758.43 L216.5,758.43 L219.5,758.43 L222.5,758.43 L225.5,758.43 L228.5,758.43 L231.5,758.43 L234.5,758.42 L237.5,758.42 L240.5,758.42 L243.5,758.42 L246.5,758.42 L249.5,758.42 L252.5,758.42 L255.5,758.42 L258.5,758.42 L261.5,758.42 L264.5,758.42 L267.5,758.42 L270.5,758.42 L273.5,758.42 L276.5,758.42 L279.5,758.43 L282.5,758.43 L285.5,758.43 L288.5,758.43 L291.5,758.44 L294.5,758.44 L297.5,758.44 L300.5,758.45 L303.5,758.45 L306.5,758.45 L309.5,758.45 L312.5,758.45 L315.5,758.44 L318.5,758.43 L321.5,758.42 L324.5,758.41 L327.5,758.40 L330.5,758.38 L333.5,758.36 L336.5,758.33 L339.5,758.30 L342.5,758.26 L345.5,758.22 L348.5,758.18 L351.5,758.13 L354.5,758.07 L357.5,758.01 L360.5,757.94 L363.5,757.87 L366.5,757.79 L369.5,757.70 L372.5,757.60 L375.5,757.50 L378.5,757.39 L381.5,757.27 L384.5,757.14 L387.5,757.00 L390.5,756.86 L393.5,756.71 L396.5,756.54 L399.5,756.37 L402.5,756.18 L405.5,755.99 L408.5,755.78 L411.5,755.57 L414.5,755.34 L417.5,755.10 L420.5,754.85 L423.5,754.59 L426.5,754.32 L429.5,754.03 L432.5,753.73 L435.5,753.42 L438.5,753.09 L441.5,752.75 L444.5,752.40 L447.5,752.03 L450.5,751.64 L453.5,751.25 L456.5,750.83 L459.5,750.40 L462.5,749.96 L465.5,749.50 L468.5,749.02 L471.5,748.53 L474.5,748.02 L477.5,747.50 L480.5,746.95 L483.5,746.39 L486.5,745.81 L489.5,745.21 L492.5,744.60 L495.5,743.96 L498.5,743.31 L501.5,742.64 L504.5,741.94 L507.5,741.23 L510.5,740.50 L513.5,739.75 L516.5,738.97 L519.5,738.18 L522.5,737.36 L525.5,736.52 L528.5,735.67 L531.5,734.78 L534.5,733.88 L537.5,732.96 L540.5,732.01 L543.5,731.03 L546.5,730.04 L549.5,729.02 L552.5,727.98 L555.5,726.91 L558.5,725.82 L561.5,724.70 L564.5,723.56 L567.5,722.39 L570.5,721.20 L573.5,719.98 L576.5,718.73 L579.5,717.46 L582.5,716.16 L585.5,714.83 L588.5,713.48 L591.5,712.10 L594.5,710.69 L597.5,709.25 L600.5,707.79 L603.5,706.29 L606.5,704.77 L609.5,703.22 L612.5,701.63 L615.5,700.02 L618.5,698.38 L621.5,696.71 L624.5,695.00 L627.5,693.27 L630.5,691.50 L633.5,689.71 L636.5,687.88 L639.5,686.01 L642.5,684.12 L645.5,682.19 L648.5,680.24 L651.5,678.24 L654.5,676.22 L657.5,674.16 L660.5,672.07 L663.5,669.94 L666.5,667.79 L669.5,665.60 L672.5,663.39 L675.5,661.14 L678.5,658.87 L681.5,656.56 L684.5,654.23 L687.5,651.87 L690.5,649.49 L693.5,647.07 L696.5,644.64 L699.5,642.17 L702.5,639.69 L705.5,637.17 L708.5,634.64 L711.5,632.08 L714.5,629.50 L717.5,626.90 L720.5,624.27 L723.5,621.63 L726.5,618.96 L729.5,616.28 L732.5,613.58 L735.5,610.86 L738.5,608.12 L741.5,605.36 L744.5,602.58 L747.5,599.79 L750.5,596.99 L753.5,594.17 L756.5,591.33 L759.5,588.48 L762.5,585.62 L765.5,582.74 L768.5,579.84 L771.5,576.92 L774.5,573.97 L777.5,570.98 L780.5,567.97 L783.5,564.92 L786.5,561.85 L789.5,558.74 L792.5,555.62 L795.5,552.47 L798.5,549.30 L801.5,546.11 L804.5,542.92 L807.5,539.71 L810.5,536.49 L813.5,533.25 L816.5,530.01 L819.5,526.76 L822.5,523.50 L825.5,520.23 L828.5,516.95 L831.5,513.67 L834.5,510.37 L837.5,507.07 L840.5,503.76 L843.5,500.45 L846.5,497.12 L849.5,493.80 L852.5,490.46 L855.5,487.12 L858.5,483.78 L861.5,480.43 L864.5,477.08 L867.5,473.73 L870.5,470.37 L873.5,467.01 L876.5,463.64 L879.5,460.28 L882.5,456.91 L885.5,453.54 L888.5,450.17 L891.5,446.80 L894.5,443.43 L897.5,440.07 L900.5,436.70 L903.5,433.33 L906.5,429.96 L909.5,426.60 L912.5,423.24 L915.5,419.88 L918.5,416.53 L921.5,413.17 L924.5,409.82 L927.5,406.48 L930.5,403.14 L933.5,399.81 L936.5,396.48 L939.5,393.16 L942.5,389.84 L945.5,386.53 L948.5,383.23 L951.5,379.93 L954.5,376.64 L957.5,373.36 L960.5,370.09 L963.5,366.83 L966.5,363.58 L969.5,360.34 L972.5,357.10 L975.5,353.88 L978.5,350.67 L981.5,347.47 L984.5,344.28 L987.5,341.11 L990.5,337.94 L993.5,334.79 L996.5,331.66 L999.5,328.53 L1002.5,325.42 L1005.5,322.33 L1008.5,319.25 L1011.5,316.18 L1014.5,313.13 L1017.5,310.10 L1020.5,307.09 L1023.5,304.09 L1026.5,301.10 L1029.5,298.14 L1032.5,295.19 L1035.5,292.26 L1038.5,289.35 L1041.5,286.46 L1044.5,283.59 L1047.5,280.74 L1050.5,277.91 L1053.5,275.10 L1056.5,272.31 L1059.5,269.54 L1062.5,266.80 L1065.5,264.07 L1068.5,261.37 L1071.5,258.70 L1074.5,256.04 L1077.5,253.41 L1080.5,250.81 L1083.5,248.22 L1086.5,245.67 L1089.5,243.13 L1092.5,240.62 L1095.5,238.14 L1098.5,235.67 L1101.5,233.24 L1104.5,230.82 L1107.5,228.43 L1110.5,226.07 L1113.5,223.72 L1116.5,221.41 L1119.5,219.11 L1122.5,216.84 L1125.5,214.60 L1128.5,212.37 L1131.5,210.18 L1134.5,208.00 L1137.5,205.85 L1140.5,203.72 L1143.5,201.62 L1146.5,199.54 L1149.5,197.49 L1152.5,195.46 L1155.5,193.45 L1158.5,191.47 L1161.5,189.51 L1164.5,187.57 L1167.5,185.66 L1170.5,183.78 L1173.5,181.91 L1176.5,180.07 L1179.5,178.26 L1182.5,176.47 L1185.5,174.70 L1188.5,172.96 L1191.5,171.24 L1194.5,169.54 L1197.5,167.87 L1200.5,166.22 L1203.5,164.60 L1206.5,162.99 L1209.5,161.42 L1212.5,159.86 L1215.5,158.33 L1218.5,156.82 L1221.5,155.34 L1224.5,153.87 L1227.5,152.43 L1230.5,151.01 L1233.5,149.61 L1236.5,148.24 L1239.5,146.89 L1242.5,145.55 L1245.5,144.24 L1248.5,142.95 L1251.5,141.68 L1254.5,140.44 L1257.5,139.21 L1260.5,138.00 L1263.5,136.82 L1266.5,135.65 L1269.5,134.50 L1272.5,133.38 L1275.5,132.27 L1278.5,131.18 L1281.5,130.12 L1284.5,129.07 L1287.5,128.04 L1290.5,127.03 L1293.5,126.04 L1296.5,125.06 L1299.5,124.11 L1302.5,123.17 L1305.5,122.25 L1308.5,121.35 L1311.5,120.47 L1314.5,119.61 L1317.5,118.76 L1320.5,117.93 L1323.5,117.11 L1326.5,116.32 L1329.5,115.54 L1332.5,114.77 L1335.5,114.03 L1338.5,113.29 L1341.5,112.58 L1344.5,111.88 L1347.5,111.20 L1350.5,110.53 L1353.5,109.88 L1356.5,109.24 L1359.5,108.62 L1362.5,108.01 L1365.5,107.42 L1368.5,106.84 L1371.5,106.28 L1374.5,105.73 L1377.5,105.20 L1380.5,104.68 L1383.5,104.17 L1386.5,103.68 L1389.5,103.20 L1392.5,102.73 L1395.5,102.28 L1398.5,101.83 L1401.5,101.41 L1404.5,100.99 L1407.5,100.59 L1410.5,100.19 L1413.5,99.81 L1416.5,99.45 L1419.5,99.09 L1422.5,98.74 L1425.5,98.41 L1428.5,98.09 L1431.5,97.77 L1434.5,97.47 L1437.5,97.18 L1440.5,96.89 L1443.5,96.62 L1446.5,96.36 L1449.5,96.11 L1452.5,95.86 L1455.5,95.63 L1458.5,95.40 L1461.5,95.18 L1464.5,94.97 L1467.5,94.77 L1470.5,94.58 L1473.5,94.40 L1476.5,94.22 L1479.5,94.05 L1482.5,93.89 L1485.5,93.73 L1488.5,93.58 L1491.5,93.44 L1494.5,93.30 L1497.5,93.18 L1500.5,93.05 L1503.5,92.94 L1506.5,92.82 L1509.5,92.72 L1512.5,92.62 L1515.5,92.52 L1518.5,92.43 L1521.5,92.35 L1524.5,92.27 L1527.5,92.19 L1530.5,92.12 L1533.5,92.05 L1536.5,91.98 L1539.5,91.92 L1542.5,91.86 L1545.5,91.81 L1548.5,91.76 L1551.5,91.71 L1554.5,91.66 L1557.5,91.62 L1560.5,91.57 L1563.5,91.53 L1566.5,91.50 L1569.5,91.46 L1572.5,91.42 L1575.5,91.39 L1578.5,91.36 L1581.5,91.32 L1584.5,91.29 L1587.5,91.26 L1590.5,91.23 L1593.5,91.20 L1596.5,91.17 L1599.5,91.13 L1602.5,91.10 L1605.5,91.07 L1608.5,91.03 L1611.5,91.00 L1614.5,90.96 L1617.5,90.93 L1620.5,90.89 L1623.5,90.85 L1626.5,90.81 L1629.5,90.77 L1632.5,90.74 L1635.5,90.70 L1638.5,90.66 L1641.5,90.62 L1644.5,90.58 L1647.5,90.54 L1650.5,90.50 L1653.5,90.46 L1656.5,90.42 L1659.5,90.38 L1662.5,90.35 L1665.5,90.31 L1668.5,90.27 L1671.5,90.23 L1674.5,90.20 L1677.5,90.16 L1680.5,90.12 L1683.5,90.09 L1686.5,90.05 L1689.5,90.02 L1692.5,89.98 L1695.5,89.95 L1698.5,89.91 L1701.5,89.88 L1704.5,89.84 L1707.5,89.81 L1710.5,89.78 L1713.5,89.74 L1716.5,89.71 L1719.5,89.68 L1722.5,89.64 L1724.5,89.62"/>
<path d="M114.5,903.56 L117.5,903.56 L120.5,903.56 L123.5,903.56 L126.5,903.56 L129.5,903.56 L132.5,903.56 L135.5,903.56 L138.5,903.56 L141.5,903.56 L144.5,903.56 L147.5,903.56 L150.5,903.56 L153.5,903.56 L156.5,903.56 L159.5,903.56 L162.5,903.56 L165.5,903.56 L168.5,903.56 L171.5,903.56 L174.5,903.56 L177.5,903.56 L180.5,903.56 L183.5,903.56 L186.5,903.56 L189.5,903.56 L192.5,903.56 L195.5,903.56 L198.5,903.56 L201.5,903.56 L204.5,903.56 L207.5,903.56 L210.5,903.56 L213.5,903.56 L216.5,903.56 L219.5,903.56 L222.5,903.56 L225.5,903.56 L228.5,903.56 L231.5,903.56 L234.5,903.56 L237.5,903.56 L240.5,903.56 L243.5,903.56 L246.5,903.56 L249.5,903.56 L252.5,903.56 L255.5,903.56 L258.5,903.56 L261.5,903.56 L264.5,903.56 L267.5,903.56 L270.5,903.56 L273.5,903.56 L276.5,903.56 L279.5,903.56 L282.5,903.56 L285.5,903.56 L288.5,903.56 L291.5,903.56 L294.5,903.56 L297.5,903.56 L300.5,903.56 L303.5,903.56 L306.5,903.56 L309.5,903.56 L312.5,903.56 L315.5,903.56 L318.5,903.56 L321.5,903.56 L324.5,903.56 L327.5,903.56 L330.5,903.56 L333.5,903.56 L336.5,903.56 L339.5,903.56 L342.5,903.53 L345.5,903.54 L348.5,903.54 L351.5,903.55 L354.5,903.55 L357.5,903.56 L360.5,903.56 L363.5,903.57 L366.5,903.57 L369.5,903.58 L372.5,903.58 L375.5,903.59 L378.5,903.59 L381.5,903.60 L384.5,903.60 L387.5,903.61 L390.5,903.61 L393.5,903.61 L396.5,903.62 L399.5,903.62 L402.5,903.62 L405.5,903.62 L408.5,903.62 L411.5,903.61 L414.5,903.61 L417.5,903.61 L420.5,903.60 L423.5,903.59 L426.5,903.58 L429.5,903.56 L432.5,903.53 L435.5,903.50 L438.5,903.47 L441.5,903.42 L444.5,903.37 L447.5,903.31 L450.5,903.24 L453.5,903.16 L456.5,903.08 L459.5,902.98 L462.5,902.87 L465.5,902.75 L468.5,902.63 L471.5,902.49 L474.5,902.34 L477.5,902.18 L480.5,902.01 L483.5,901.82 L486.5,901.63 L489.5,901.42 L492.5,901.20 L495.5,900.96 L498.5,900.72 L501.5,900.46 L504.5,900.18 L507.5,899.89 L510.5,899.59 L513.5,899.27 L516.5,898.94 L519.5,898.59 L522.5,898.23 L525.5,897.85 L528.5,897.45 L531.5,897.04 L534.5,896.61 L537.5,896.16 L540.5,895.70 L543.5,895.22 L546.5,894.72 L549.5,894.21 L552.5,893.67 L555.5,893.12 L558.5,892.54 L561.5,891.95 L564.5,891.34 L567.5,890.71 L570.5,890.06 L573.5,889.39 L576.5,888.69 L579.5,887.98 L582.5,887.24 L585.5,886.49 L588.5,885.71 L591.5,884.91 L594.5,884.09 L597.5,883.24 L600.5,882.37 L603.5,881.48 L606.5,880.56 L609.5,879.62 L612.5,878.66 L615.5,877.67 L618.5,876.66 L621.5,875.62 L624.5,874.56 L627.5,873.47 L630.5,872.36 L633.5,871.22 L636.5,870.05 L639.5,868.86 L642.5,867.64 L645.5,866.39 L648.5,865.11 L651.5,863.81 L654.5,862.48 L657.5,861.12 L660.5,859.73 L663.5,858.31 L666.5,856.86 L669.5,855.39 L672.5,853.88 L675.5,852.34 L678.5,850.78 L681.5,849.18 L684.5,847.55 L687.5,845.89 L690.5,844.20 L693.5,842.47 L696.5,840.72 L699.5,838.93 L702.5,837.11 L705.5,835.26 L708.5,833.37 L711.5,831.45 L714.5,829.51 L717.5,827.53 L720.5,825.52 L723.5,823.48 L726.5,821.41 L729.5,819.32 L732.5,817.19 L735.5,815.04 L738.5,812.85 L741.5,810.65 L744.5,808.41 L747.5,806.15 L750.5,803.86 L753.5,801.55 L756.5,799.21 L759.5,796.85 L762.5,794.46 L765.5,792.05 L768.5,789.61 L771.5,787.16 L774.5,784.68 L777.5,782.18 L780.5,779.65 L783.5,777.11 L786.5,774.54 L789.5,771.96 L792.5,769.35 L795.5,766.72 L798.5,764.08 L801.5,761.42 L804.5,758.74 L807.5,756.04 L810.5,753.32 L813.5,750.59 L816.5,747.84 L819.5,745.07 L822.5,742.29 L825.5,739.50 L828.5,736.68 L831.5,733.86 L834.5,731.02 L837.5,728.17 L840.5,725.30 L843.5,722.42 L846.5,719.53 L849.5,716.63 L852.5,713.72 L855.5,710.79 L858.5,707.86 L861.5,704.91 L864.5,701.96 L867.5,699.00 L870.5,696.02 L873.5,693.04 L876.5,690.06 L879.5,687.06 L882.5,684.06 L885.5,681.05 L888.5,678.03 L891.5,675.01 L894.5,671.99 L897.5,668.96 L900.5,665.92 L903.5,662.88 L906.5,659.84 L909.5,656.79 L912.5,653.74 L915.5,650.69 L918.5,647.64 L921.5,644.58 L924.5,641.53 L927.5,638.47 L930.5,635.41 L933.5,632.35 L936.5,629.29 L939.5,626.23 L942.5,623.16 L945.5,620.10 L948.5,617.05 L951.5,613.99 L954.5,610.93 L957.5,607.87 L960.5,604.82 L963.5,601.77 L966.5,598.72 L969.5,595.68 L972.5,592.64 L975.5,589.60 L978.5,586.56 L981.5,583.53 L984.5,580.51 L987.5,577.48 L990.5,574.47 L993.5,571.46 L996.5,568.45 L999.5,565.45 L1002.5,562.46 L1005.5,559.48 L1008.5,556.50 L1011.5,553.53 L1014.5,550.56 L1017.5,547.61 L1020.5,544.66 L1023.5,541.72 L1026.5,538.79 L1029.5,535.87 L1032.5,532.95 L1035.5,530.05 L1038.5,527.16 L1041.5,524.28 L1044.5,521.40 L1047.5,518.54 L1050.5,515.69 L1053.5,512.86 L1056.5,510.03 L1059.5,507.22 L1062.5,504.42 L1065.5,501.63 L1068.5,498.85 L1071.5,496.09 L1074.5,493.34 L1077.5,490.61 L1080.5,487.89 L1083.5,485.18 L1086.5,482.49 L1089.5,479.82 L1092.5,477.16 L1095.5,474.51 L1098.5,471.89 L1101.5,469.27 L1104.5,466.68 L1107.5,464.10 L1110.5,461.54 L1113.5,459.00 L1116.5,456.48 L1119.5,453.97 L1122.5,451.48 L1125.5,449.02 L1128.5,446.57 L1131.5,444.14 L1134.5,441.73 L1137.5,439.34 L1140.5,436.97 L1143.5,434.62 L1146.5,432.29 L1149.5,429.99 L1152.5,427.70 L1155.5,425.44 L1158.5,423.20 L1161.5,420.98 L1164.5,418.78 L1167.5,416.61 L1170.5,414.46 L1173.5,412.33 L1176.5,410.22 L1179.5,408.14 L1182.5,406.08 L1185.5,404.04 L1188.5,402.02 L1191.5,400.04 L1194.5,398.07 L1197.5,396.13 L1200.5,394.21 L1203.5,392.32 L1206.5,390.45 L1209.5,388.60 L1212.5,386.79 L1215.5,384.99 L1218.5,383.22 L1221.5,381.48 L1224.5,379.77 L1227.5,378.08 L1230.5,376.41 L1233.5,374.77 L1236.5,373.16 L1239.5,371.57 L1242.5,370.01 L1245.5,368.48 L1248.5,366.97 L1251.5,365.49 L1254.5,364.03 L1257.5,362.59 L1260.5,361.19 L1263.5,359.80 L1266.5,358.44 L1269.5,357.11 L1272.5,355.80 L1275.5,354.52 L1278.5,353.26 L1281.5,352.02 L1284.5,350.81 L1287.5,349.62 L1290.5,348.45 L1293.5,347.31 L1296.5,346.19 L1299.5,345.09 L1302.5,344.02 L1305.5,342.97 L1308.5,341.95 L1311.5,340.94 L1314.5,339.96 L1317.5,339.00 L1320.5,338.06 L1323.5,337.15 L1326.5,336.25 L1329.5,335.38 L1332.5,334.53 L1335.5,333.70 L1338.5,332.90 L1341.5,332.11 L1344.5,331.34 L1347.5,330.60 L1350.5,329.88 L1353.5,329.17 L1356.5,328.49 L1359.5,327.83 L1362.5,327.19 L1365.5,326.56 L1368.5,325.96 L1371.5,325.38 L1374.5,324.82 L1377.5,324.27 L1380.5,323.75 L1383.5,323.24 L1386.5,322.76 L1389.5,322.29 L1392.5,321.84 L1395.5,321.41 L1398.5,321.00 L1401.5,320.61 L1404.5,320.23 L1407.5,319.88 L1410.5,319.54 L1413.5,319.21 L1416.5,318.91 L1419.5,318.62 L1422.5,318.36 L1425.5,318.10 L1428.5,317.87 L1431.5,317.65 L1434.5,317.44 L1437.5,317.25 L1440.5,317.08 L1443.5,316.91 L1446.5,316.77 L1449.5,316.63 L1452.5,316.51 L1455.5,316.39 L1458.5,316.29 L1461.5,316.20 L1464.5,316.12 L1467.5,316.05 L1470.5,315.99 L1473.5,315.93 L1476.5,315.89 L1479.5,315.85 L1482.5,315.82 L1485.5,315.79 L1488.5,315.77 L1491.5,315.76 L1494.5,315.75 L1497.5,315.74 L1500.5,315.74 L1503.5,315.74 L1506.5,315.75 L1509.5,315.76 L1512.5,315.77 L1515.5,315.78 L1518.5,315.79 L1521.5,315.80 L1524.5,315.81 L1527.5,315.82 L1530.5,315.82 L1533.5,315.83 L1536.5,315.84 L1539.5,315.84 L1542.5,315.85 L1545.5,315.85 L1548.5,315.85 L1551.5,315.85 L1554.5,315.85 L1557.5,315.85 L1560.5,315.85 L1563.5,315.85 L1566.5,315.85 L1569.5,315.85 L1572.5,315.84 L1575.5,315.84 L1578.5,315.84 L1581.5,315.83 L1584.5,315.83 L1587.5,315.82 L1590.5,315.82 L1593.5,315.82 L1596.5,315.81 L1599.5,315.81 L1602.5,315.80 L1605.5,315.80 L1608.5,315.79 L1611.5,315.79 L1614.5,315.78 L1617.5,315.78 L1620.5,315.78 L1623.5,315.77 L1626.5,315.77 L1629.5,315.77 L1632.5,315.77 L1635.5,315.76 L1638.5,315.76 L1641.5,315.76 L1644.5,315.76 L1647.5,315.76 L1650.5,315.76 L1653.5,315.76 L1656.5,315.75 L1659.5,315.75 L1662.5,315.75 L1665.5,315.75 L1668.5,315.75 L1671.5,315.75 L1674.5,315.75 L1677.5,315.75 L1680.5,315.75 L1683.5,315.75 L1686.5,315.75 L1689.5,315.75 L1692.5,315.75 L1695.5,315.75 L1698.5,315.75 L1701.5,315.75 L1704.5,315.75 L1707.5,315.75 L1710.5,315.75 L1713.5,315.75 L1716.5,315.75 L1719.5,315.75 L1722.5,315.75 L1724.5,315.75"/>
<path d="M114.5,1048.60 L117.5,1048.60 L120.5,1048.60 L123.5,1048.60 L126.5,1048.60 L129.5,1048.60 L132.5,1048.60 L135.5,1048.60 L138.5,1048.60 L141.5,1048.60 L144.5,1048.60 L147.5,1048.60 L150.5,1048.60 L153.5,1048.60 L156.5,1048.60 L159.5,1048.60 L162.5,1048.60 L165.5,1048.60 L168.5,1048.60 L171.5,1048.60 L174.5,1048.60 L177.5,1048.60 L180.5,1048.60 L183.5,1048.60 L186.5,1048.60 L189.5,1048.60 L192.5,1048.60 L195.5,1048.60 L198.5,1048.60 L201.5,1048.60 L204.5,1048.60 L207.5,1048.60 L210.5,1048.60 L213.5,1048.60 L216.5,1048.60 L219.5,1048.60 L222.5,1048.60 L225.5,1048.60 L228.5,1048.60 L231.5,1048.60 L234.5,1048.60 L237.5,1048.60 L240.5,1048.60 L243.5,1048.60 L246.5,1048.60 L249.5,1048.60 L252.5,1048.60 L255.5,1048.60 L258.5,1048.60 L261.5,1048.60 L264.5,1048.60 L267.5,1048.60 L270.5,1048.60 L273.5,1048.61 L276.5,1048.61 L279.5,1048.61 L282.5,1048.61 L285.5,1048.61 L288.5,1048.61 L291.5,1048.61 L294.5,1048.61 L297.5,1048.61 L300.5,1048.61 L303.5,1048.61 L306.5,1048.61 L309.5,1048.60 L312.5,1048.60 L315.5,1048.59 L318.5,1048.58 L321.5,1048.57 L324.5,1048.56 L327.5,1048.55 L330.5,1048.54 L333.5,1048.54 L336.5,1048.54 L339.5,1048.54 L342.5,1048.56 L345.5,1048.58 L348.5,1048.62 L351.5,1048.68 L354.5,1048.74 L357.5,1048.83 L360.5,1048.92 L363.5,1049.03 L366.5,1049.16 L369.5,1049.29 L372.5,1049.44 L375.5,1049.60 L378.5,1049.76 L381.5,1049.94 L384.5,1050.13 L387.5,1050.32 L390.5,1050.53 L393.5,1050.74 L396.5,1050.95 L399.5,1051.18 L402.5,1051.41 L405.5,1051.64 L408.5,1051.88 L411.5,1052.12 L414.5,1052.37 L417.5,1052.61 L420.5,1052.86 L423.5,1053.11 L426.5,1053.37 L429.5,1053.62 L432.5,1053.87 L435.5,1054.12 L438.5,1054.37 L441.5,1054.61 L444.5,1054.86 L447.5,1055.10 L450.5,1055.34 L453.5,1055.57 L456.5,1055.79 L459.5,1056.01 L462.5,1056.23 L465.5,1056.43 L468.5,1056.63 L471.5,1056.83 L474.5,1057.01 L477.5,1057.18 L480.5,1057.34 L483.5,1057.50 L486.5,1057.64 L489.5,1057.77 L492.5,1057.88 L495.5,1057.99 L498.5,1058.08 L501.5,1058.15 L504.5,1058.22 L507.5,1058.26 L510.5,1058.29 L513.5,1058.30 L516.5,1058.30 L519.5,1058.28 L522.5,1058.24 L525.5,1058.18 L528.5,1058.11 L531.5,1058.02 L534.5,1057.91 L537.5,1057.78 L540.5,1057.63 L543.5,1057.47 L546.5,1057.28 L549.5,1057.08 L552.5,1056.86 L555.5,1056.62 L558.5,1056.36 L561.5,1056.09 L564.5,1055.79 L567.5,1055.48 L570.5,1055.15 L573.5,1054.79 L576.5,1054.42 L579.5,1054.03 L582.5,1053.62 L585.5,1053.19 L588.5,1052.74 L591.5,1052.28 L594.5,1051.79 L597.5,1051.28 L600.5,1050.75 L603.5,1050.20 L606.5,1049.64 L609.5,1049.05 L612.5,1048.44 L615.5,1047.81 L618.5,1047.16 L621.5,1046.49 L624.5,1045.80 L627.5,1045.09 L630.5,1044.36 L633.5,1043.61 L636.5,1042.84 L639.5,1042.04 L642.5,1041.23 L645.5,1040.39 L648.5,1039.53 L651.5,1038.65 L654.5,1037.75 L657.5,1036.83 L660.5,1035.89 L663.5,1034.92 L666.5,1033.93 L669.5,1032.92 L672.5,1031.89 L675.5,1030.84 L678.5,1029.76 L681.5,1028.67 L684.5,1027.55 L687.5,1026.40 L690.5,1025.24 L693.5,1024.05 L696.5,1022.84 L699.5,1021.61 L702.5,1020.35 L705.5,1019.08 L708.5,1017.77 L711.5,1016.45 L714.5,1015.10 L717.5,1013.73 L720.5,1012.34 L723.5,1010.92 L726.5,1009.48 L729.5,1008.01 L732.5,1006.52 L735.5,1005.01 L738.5,1003.47 L741.5,1001.91 L744.5,1000.33 L747.5,998.72 L750.5,997.09 L753.5,995.43 L756.5,993.75 L759.5,992.04 L762.5,990.31 L765.5,988.56 L768.5,986.78 L771.5,984.98 L774.5,983.15 L777.5,981.29 L780.5,979.42 L783.5,977.51 L786.5,975.58 L789.5,973.63 L792.5,971.65 L795.5,969.65 L798.5,967.62 L801.5,965.57 L804.5,963.49 L807.5,961.38 L810.5,959.25 L813.5,957.10 L816.5,954.92 L819.5,952.71 L822.5,950.48 L825.5,948.22 L828.5,945.94 L831.5,943.63 L834.5,941.29 L837.5,938.93 L840.5,936.54 L843.5,934.13 L846.5,931.69 L849.5,929.22 L852.5,926.73 L855.5,924.22 L858.5,921.67 L861.5,919.11 L864.5,916.52 L867.5,913.91 L870.5,911.28 L873.5,908.63 L876.5,905.95 L879.5,903.26 L882.5,900.54 L885.5,897.81 L888.5,895.06 L891.5,892.29 L894.5,889.50 L897.5,886.70 L900.5,883.88 L903.5,881.04 L906.5,878.19 L909.5,875.32 L912.5,872.44 L915.5,869.55 L918.5,866.64 L921.5,863.73 L924.5,860.80 L927.5,857.86 L930.5,854.91 L933.5,851.95 L936.5,848.98 L939.5,846.00 L942.5,843.01 L945.5,840.02 L948.5,837.01 L951.5,834.01 L954.5,830.99 L957.5,827.97 L960.5,824.95 L963.5,821.92 L966.5,818.89 L969.5,815.86 L972.5,812.83 L975.5,809.79 L978.5,806.75 L981.5,803.71 L984.5,800.68 L987.5,797.64 L990.5,794.61 L993.5,791.57 L996.5,788.54 L999.5,785.52 L1002.5,782.50 L1005.5,779.48 L1008.5,776.47 L1011.5,773.46 L1014.5,770.46 L1017.5,767.47 L1020.5,764.49 L1023.5,761.51 L1026.5,758.55 L1029.5,755.59 L1032.5,752.64 L1035.5,749.71 L1038.5,746.78 L1041.5,743.87 L1044.5,740.97 L1047.5,738.08 L1050.5,735.20 L1053.5,732.33 L1056.5,729.47 L1059.5,726.63 L1062.5,723.80 L1065.5,720.98 L1068.5,718.18 L1071.5,715.38 L1074.5,712.61 L1077.5,709.84 L1080.5,707.09 L1083.5,704.35 L1086.5,701.63 L1089.5,698.92 L1092.5,696.23 L1095.5,693.55 L1098.5,690.89 L1101.5,688.24 L1104.5,685.60 L1107.5,682.99 L1110.5,680.39 L1113.5,677.80 L1116.5,675.23 L1119.5,672.68 L1122.5,670.14 L1125.5,667.62 L1128.5,665.12 L1131.5,662.64 L1134.5,660.17 L1137.5,657.72 L1140.5,655.29 L1143.5,652.88 L1146.5,650.49 L1149.5,648.11 L1152.5,645.75 L1155.5,643.42 L1158.5,641.10 L1161.5,638.80 L1164.5,636.52 L1167.5,634.26 L1170.5,632.02 L1173.5,629.80 L1176.5,627.61 L1179.5,625.43 L1182.5,623.27 L1185.5,621.14 L1188.5,619.02 L1191.5,616.93 L1194.5,614.86 L1197.5,612.81 L1200.5,610.79 L1203.5,608.78 L1206.5,606.80 L1209.5,604.85 L1212.5,602.91 L1215.5,601.00 L1218.5,599.11 L1221.5,597.25 L1224.5,595.41 L1227.5,593.59 L1230.5,591.80 L1233.5,590.04 L1236.5,588.30 L1239.5,586.58 L1242.5,584.89 L1245.5,583.23 L1248.5,581.60 L1251.5,579.99 L1254.5,578.40 L1257.5,576.85 L1260.5,575.32 L1263.5,573.82 L1266.5,572.35 L1269.5,570.90 L1272.5,569.49 L1275.5,568.10 L1278.5,566.74 L1281.5,565.41 L1284.5,564.11 L1287.5,562.84 L1290.5,561.60 L1293.5,560.39 L1296.5,559.21 L1299.5,558.06 L1302.5,556.94 L1305.5,555.84 L1308.5,554.78 L1311.5,553.74 L1314.5,552.74 L1317.5,551.76 L1320.5,550.82 L1323.5,549.90 L1326.5,549.01 L1329.5,548.15 L1332.5,547.32 L1335.5,546.52 L1338.5,545.75 L1341.5,545.00 L1344.5,544.29 L1347.5,543.60 L1350.5,542.95 L1353.5,542.32 L1356.5,541.72 L1359.5,541.15 L1362.5,540.61 L1365.5,540.09 L1368.5,539.61 L1371.5,539.15 L1374.5,538.72 L1377.5,538.33 L1380.5,537.95 L1383.5,537.61 L1386.5,537.30 L1389.5,537.01 L1392.5,536.76 L1395.5,536.53 L1398.5,536.33 L1401.5,536.16 L1404.5,536.01 L1407.5,535.90 L1410.5,535.81 L1413.5,535.75 L1416.5,535.71 L1419.5,535.69 L1422.5,535.68 L1425.5,535.70 L1428.5,535.72 L1431.5,535.76 L1434.5,535.80 L1437.5,535.86 L1440.5,535.91 L1443.5,535.96 L1446.5,536.02 L1449.5,536.08 L1452.5,536.13 L1455.5,536.19 L1458.5,536.25 L1461.5,536.31 L1464.5,536.37 L1467.5,536.43 L1470.5,536.49 L1473.5,536.55 L1476.5,536.61 L1479.5,536.67 L1482.5,536.73 L1485.5,536.79 L1488.5,536.85 L1491.5,536.90 L1494.5,536.96 L1497.5,537.02 L1500.5,537.08 L1503.5,537.14 L1506.5,537.19 L1509.5,537.25 L1512.5,537.31 L1515.5,537.36 L1518.5,537.42 L1521.5,537.48 L1524.5,537.53 L1527.5,537.59 L1530.5,537.64 L1533.5,537.70 L1536.5,537.75 L1539.5,537.81 L1542.5,537.86 L1545.5,537.91 L1548.5,537.97 L1551.5,538.02 L1554.5,538.08 L1557.5,538.13 L1560.5,538.18 L1563.5,538.24 L1566.5,538.29 L1569.5,538.35 L1572.5,538.40 L1575.5,538.45 L1578.5,538.51 L1581.5,538.56 L1584.5,538.62 L1587.5,538.67 L1590.5,538.73 L1593.5,538.78 L1596.5,538.83 L1599.5,538.89 L1602.5,538.94 L1605.5,539.00 L1608.5,539.05 L1611.5,539.11 L1614.5,539.16 L1617.5,539.22 L1620.5,539.27 L1623.5,539.33 L1626.5,539.39 L1629.5,539.44 L1632.5,539.50 L1635.5,539.55 L1638.5,539.61 L1641.5,539.66 L1644.5,539.72 L1647.5,539.78 L1650.5,539.83 L1653.5,539.89 L1656.5,539.94 L1659.5,540.00 L1662.5,540.06 L1665.5,540.11 L1668.5,540.17 L1671.5,540.22 L1674.5,540.28 L1677.5,540.34 L1680.5,540.39 L1683.5,540.45 L1686.5,540.51 L1689.5,540.56 L1692.5,540.62 L1695.5,540.67 L1698.5,540.73 L1701.5,540.79 L1704.5,540.84 L1707.5,540.90 L1710.5,540.95 L1713.5,541.01 L1716.5,541.07 L1719.5,541.12 L1722.5,541.18 L1724.5,541.22"/>
<path d="M114.5,757.86 V1048.60" stroke-linecap="round"/>
<path d="M1724.5,89.62 V541.22" stroke-linecap="round"/>
</g>
<path d="M114.5,640.96 V836.96" stroke="#000" stroke-linecap="round"/>
<path d="M114.5,640.96 H125" stroke="#000" stroke-linecap="round"/>
</g>
<path fill="#000" fill-rule="evenodd" d="M33.5,39 H1804.3 a4.5,4.5 0 0 1 4.5,4.5 V1169.3 a4.5,4.5 0 0 1 -4.5,4.5 H33.5 a4.5,4.5 0 0 1 -4.5,-4.5 V43.5 a4.5,4.5 0 0 1 4.5,-4.5 Z M37.9,47.9 V1163.85 H1800.1 V47.9 Z"/>
<g stroke="#000" fill="none">
<path d="M59.4,1166 V1146" stroke-width="2.9"/>
<path d="M114.5,1166 V1133.3" stroke-width="8.85" stroke-linecap="round"/>
<path d="M169.6,1166 V1146" stroke-width="2.9"/>
<path d="M224.6,1166 V1146" stroke-width="2.9"/>
<path d="M279.7,1166 V1146" stroke-width="2.9"/>
<path d="M334.8,1166 V1146" stroke-width="2.9"/>
<path d="M389.8,1166 V1133.3" stroke-width="8.85" stroke-linecap="round"/>
<path d="M444.9,1166 V1146" stroke-width="2.9"/>
<path d="M500.0,1166 V1146" stroke-width="2.9"/>
<path d="M555.0,1166 V1146" stroke-width="2.9"/>
<path d="M610.1,1166 V1146" stroke-width="2.9"/>
<path d="M665.2,1166 V1133.3" stroke-width="8.85" stroke-linecap="round"/>
<path d="M720.2,1166 V1146" stroke-width="2.9"/>
<path d="M775.3,1166 V1146" stroke-width="2.9"/>
<path d="M830.4,1166 V1146" stroke-width="2.9"/>
<path d="M885.5,1166 V1146" stroke-width="2.9"/>
<path d="M940.5,1166 V1133.3" stroke-width="8.85" stroke-linecap="round"/>
<path d="M995.6,1166 V1146" stroke-width="2.9"/>
<path d="M1050.7,1166 V1146" stroke-width="2.9"/>
<path d="M1105.7,1166 V1146" stroke-width="2.9"/>
<path d="M1160.8,1166 V1146" stroke-width="2.9"/>
<path d="M1215.9,1166 V1133.3" stroke-width="8.85" stroke-linecap="round"/>
<path d="M1270.9,1166 V1146" stroke-width="2.9"/>
<path d="M1326.0,1166 V1146" stroke-width="2.9"/>
<path d="M1381.1,1166 V1146" stroke-width="2.9"/>
<path d="M1436.1,1166 V1146" stroke-width="2.9"/>
<path d="M1491.2,1166 V1133.3" stroke-width="8.85" stroke-linecap="round"/>
<path d="M1546.3,1166 V1146" stroke-width="2.9"/>
<path d="M1601.3,1166 V1146" stroke-width="2.9"/>
<path d="M1656.4,1166 V1146" stroke-width="2.9"/>
<path d="M1711.5,1166 V1146" stroke-width="2.9"/>
<path d="M1766.5,1166 V1133.3" stroke-width="8.85" stroke-linecap="round"/>
<path d="M1802,88.2 H1782" stroke-width="2.9"/>
<path d="M1802,149.5 H1782" stroke-width="2.9"/>
<path d="M1802,210.7 H1782" stroke-width="2.9"/>
<path d="M1802,272.0 H1782" stroke-width="2.9"/>
<path d="M1802,333.0 H1769.5" stroke-width="10" stroke-linecap="round"/>
<path d="M1802,394.4 H1782" stroke-width="2.9"/>
<path d="M1802,455.7 H1782" stroke-width="2.9"/>
<path d="M1802,516.9 H1782" stroke-width="2.9"/>
<path d="M1802,578.2 H1782" stroke-width="2.9"/>
<path d="M1802,639.0 H1769.5" stroke-width="10" stroke-linecap="round"/>
<path d="M1802,700.6 H1782" stroke-width="2.9"/>
<path d="M1802,761.9 H1782" stroke-width="2.9"/>
<path d="M1802,823.1 H1782" stroke-width="2.9"/>
<path d="M1802,884.4 H1782" stroke-width="2.9"/>
<path d="M1802,945.5 H1769.5" stroke-width="9" stroke-linecap="round"/>
<path d="M1802,1006.8 H1782" stroke-width="2.9"/>
<path d="M1802,1068.1 H1782" stroke-width="2.9"/>
<path d="M1802,1129.3 H1782" stroke-width="2.9"/>
</g>
<path d="M73,110 H360" stroke="#000" stroke-width="10.1" stroke-linecap="round"/>
<path d="M72.8,208.5 H360.2" stroke="#f00000" stroke-width="9.6" stroke-linecap="round"/>
<g font-family="'Liberation Sans', Arial, Helvetica, sans-serif" fill="#000" stroke="#000" stroke-width="0.5" stroke-linejoin="round">
<text transform="scale(0.96,1)" y="121.9" font-size="50.0" font-weight="bold"><tspan x="400.01" letter-spacing="-0.344">Initial</tspan> <tspan x="540.97" letter-spacing="0.375">Geometry</tspan> <tspan x="790.47" letter-spacing="1.073">(AR</tspan> <tspan x="898.45" letter-spacing="0.000">=</tspan> <tspan x="943.16" letter-spacing="2.000">0.34)</tspan></text>
<text transform="scale(0.96,1)" y="219.9" font-size="50.0" font-weight="bold"><tspan x="400.95" letter-spacing="0.579">Second</tspan> <tspan x="597.22" letter-spacing="0.375">Geometry</tspan> <tspan x="846.61" letter-spacing="1.281">(AR</tspan> <tspan x="954.80" letter-spacing="0.000">=</tspan> <tspan x="999.41" letter-spacing="1.922">0.41)</tspan></text>
<text transform="scale(0.98,1)" y="1231.2" font-size="53.5" font-weight="normal"><tspan x="67.75" letter-spacing="0.806">-0.2</tspan></text>
<text transform="scale(0.98,1)" y="1231.2" font-size="53.5" font-weight="normal"><tspan x="382.59" letter-spacing="0.000">0</tspan></text>
<text transform="scale(0.98,1)" y="1231.2" font-size="53.5" font-weight="normal"><tspan x="640.77" letter-spacing="-0.132">0.2</tspan></text>
<text transform="scale(0.98,1)" y="1231.2" font-size="53.5" font-weight="normal"><tspan x="921.58" letter-spacing="0.439">0.4</tspan></text>
<text transform="scale(0.98,1)" y="1231.2" font-size="53.5" font-weight="normal"><tspan x="1202.91" letter-spacing="0.586">0.6</tspan></text>
<text transform="scale(0.98,1)" y="1231.2" font-size="53.5" font-weight="normal"><tspan x="1483.83" letter-spacing="0.330">0.8</tspan></text>
<text transform="scale(0.98,1)" y="1231.2" font-size="53.5" font-weight="normal"><tspan x="1789.13" letter-spacing="0.000">1</tspan></text>
<text transform="scale(0.98,1)" y="350.4" font-size="53.5" font-weight="normal"><tspan x="1906.01" letter-spacing="0.000">0</tspan></text>
<text transform="scale(0.98,1)" y="657.2" font-size="53.5" font-weight="normal"><tspan x="1860.36" letter-spacing="0.276">0.2</tspan></text>
<text transform="scale(0.98,1)" y="963.4" font-size="53.5" font-weight="normal"><tspan x="1860.36" letter-spacing="0.133">0.4</tspan></text>
<text transform="scale(0.96,1)" y="1353.8" font-size="65.5" font-weight="bold"><tspan x="873.45" letter-spacing="0.000">X</tspan> <tspan x="936.57" letter-spacing="1.151">(m)</tspan></text>
<g transform="translate(1946,0) rotate(90)"><text transform="scale(0.96,1)" y="0.0" font-size="65.5" font-weight="bold"><tspan x="549.16" letter-spacing="0.000">Z</tspan> <tspan x="609.17" letter-spacing="0.682">(m)</tspan></text></g>
</g>
</svg>
</body></html>
